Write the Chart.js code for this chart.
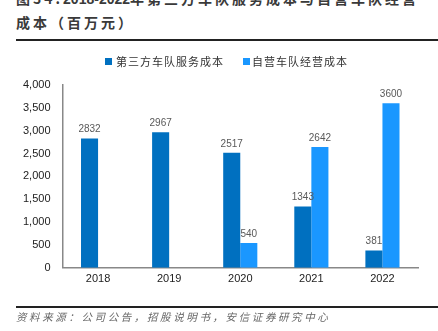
<!DOCTYPE html>
<html><head><meta charset="utf-8">
<script src="https://cdn.jsdelivr.net/npm/chart.js@4/dist/chart.umd.min.js"></script>
<style>
html,body{margin:0;padding:0;background:#fff;}
#wrap{position:relative;width:438px;height:331px;overflow:hidden;}
#title{position:absolute;left:16px;top:-13px;width:440px;font-family:"Noto Sans CJK SC",sans-serif;font-size:14px;line-height:23px;color:#3a3a3a;font-weight:bold;letter-spacing:3px;white-space:nowrap;}
#title .num{font-family:"Liberation Sans",Arial,sans-serif;letter-spacing:0;}
#hr1{position:absolute;left:16px;right:0;top:39px;height:2px;background:#222;}
#hr2{position:absolute;left:16px;right:0;top:306px;height:1.5px;background:#222;}
#foot{position:absolute;left:16px;top:309px;font-family:"Noto Sans CJK SC",sans-serif;font-size:10.5px;color:#666;font-style:italic;letter-spacing:2.6px;white-space:nowrap;}
#legend{position:absolute;left:0;top:53px;width:438px;height:16px;font-family:"Noto Sans CJK SC",sans-serif;font-size:11px;color:#333;letter-spacing:1px;}
#legend .item{position:absolute;top:0;line-height:16px;white-space:nowrap;}
#legend .box{position:absolute;top:5px;width:7px;height:7px;}
canvas{position:absolute;left:0;top:0;}
</style></head>
<body><div id="wrap">
<div id="title">图34:<span class="num">2018-2022</span>年第三方车队服务成本与自营车队经营<br>成本（百万元）</div>
<div id="hr1"></div>
<canvas id="c" width="438" height="331"></canvas>
<div id="legend"></div>
<div id="hr2"></div>
<div id="foot">资料来源：公司公告，招股说明书，安信证券研究中心</div>
</div>
<script>
const categories = ['2018','2019','2020','2021','2022'];
const thirdParty = [2832, 2967, 2517, 1343, 381];
const selfOwned = [null, null, 540, 2642, 3600];
const seriesNames = ['第三方车队服务成本','自营车队经营成本'];
const seriesColors = ['#0070c0','#1a97ff'];

const valueLabels = {
  id:'valueLabels',
  afterDatasetsDraw(chart){
    const ctx = chart.ctx;
    ctx.save();
    ctx.font = '10px "Liberation Sans", Arial, sans-serif';
    ctx.fillStyle = '#595959';
    ctx.textAlign = 'center';
    ctx.textBaseline = 'bottom';
    chart.data.datasets.forEach((ds,i)=>{
      const meta = chart.getDatasetMeta(i);
      meta.data.forEach((el,j)=>{
        const v = ds.data[j];
        if(v==null) return;
        ctx.fillText(String(v), el.x, el.y - 4);
      });
    });
    ctx.restore();
  }
};

// HTML legend built from series names/colours
const legendPos = [[105,116],[243,252]];
const lg = document.getElementById('legend');
seriesNames.forEach((n,i)=>{
  const b = document.createElement('div'); b.className='box';
  b.style.left = legendPos[i][0]+'px'; b.style.background = seriesColors[i];
  const t = document.createElement('div'); t.className='item';
  t.style.left = legendPos[i][1]+'px'; t.textContent = n;
  lg.appendChild(b); lg.appendChild(t);
});

new Chart(document.getElementById('c'),{
  type:'bar',
  data:{
    labels:categories,
    datasets:[
      {label:seriesNames[0],data:thirdParty,backgroundColor:seriesColors[0],categoryPercentage:0.48,barPercentage:1},
      {label:seriesNames[1],data:selfOwned,backgroundColor:seriesColors[1],categoryPercentage:0.48,barPercentage:1}
    ]
  },
  options:{
    responsive:false,
    animation:false,
    layout:{padding:{left:11,right:20,top:85,bottom:40}},
    plugins:{
      legend:{display:false},
      tooltip:{enabled:false}
    },
    scales:{
      x:{
        grid:{display:false,drawTicks:false,tickLength:0},
        border:{display:true,color:'#888',width:1.5},
        ticks:{color:'#222',font:{family:'"Liberation Sans", Arial, sans-serif',size:11},padding:5}
      },
      y:{
        min:0,max:4000,
        grid:{display:false,drawTicks:false,tickLength:0},
        border:{display:true,color:'#888',width:1.5},
        ticks:{stepSize:500,color:'#222',padding:12,font:{family:'"Liberation Sans", Arial, sans-serif',size:11},
          callback:(v)=>v.toLocaleString('en-US')}
      }
    }
  },
  plugins:[valueLabels]
});
</script>
</body></html>
